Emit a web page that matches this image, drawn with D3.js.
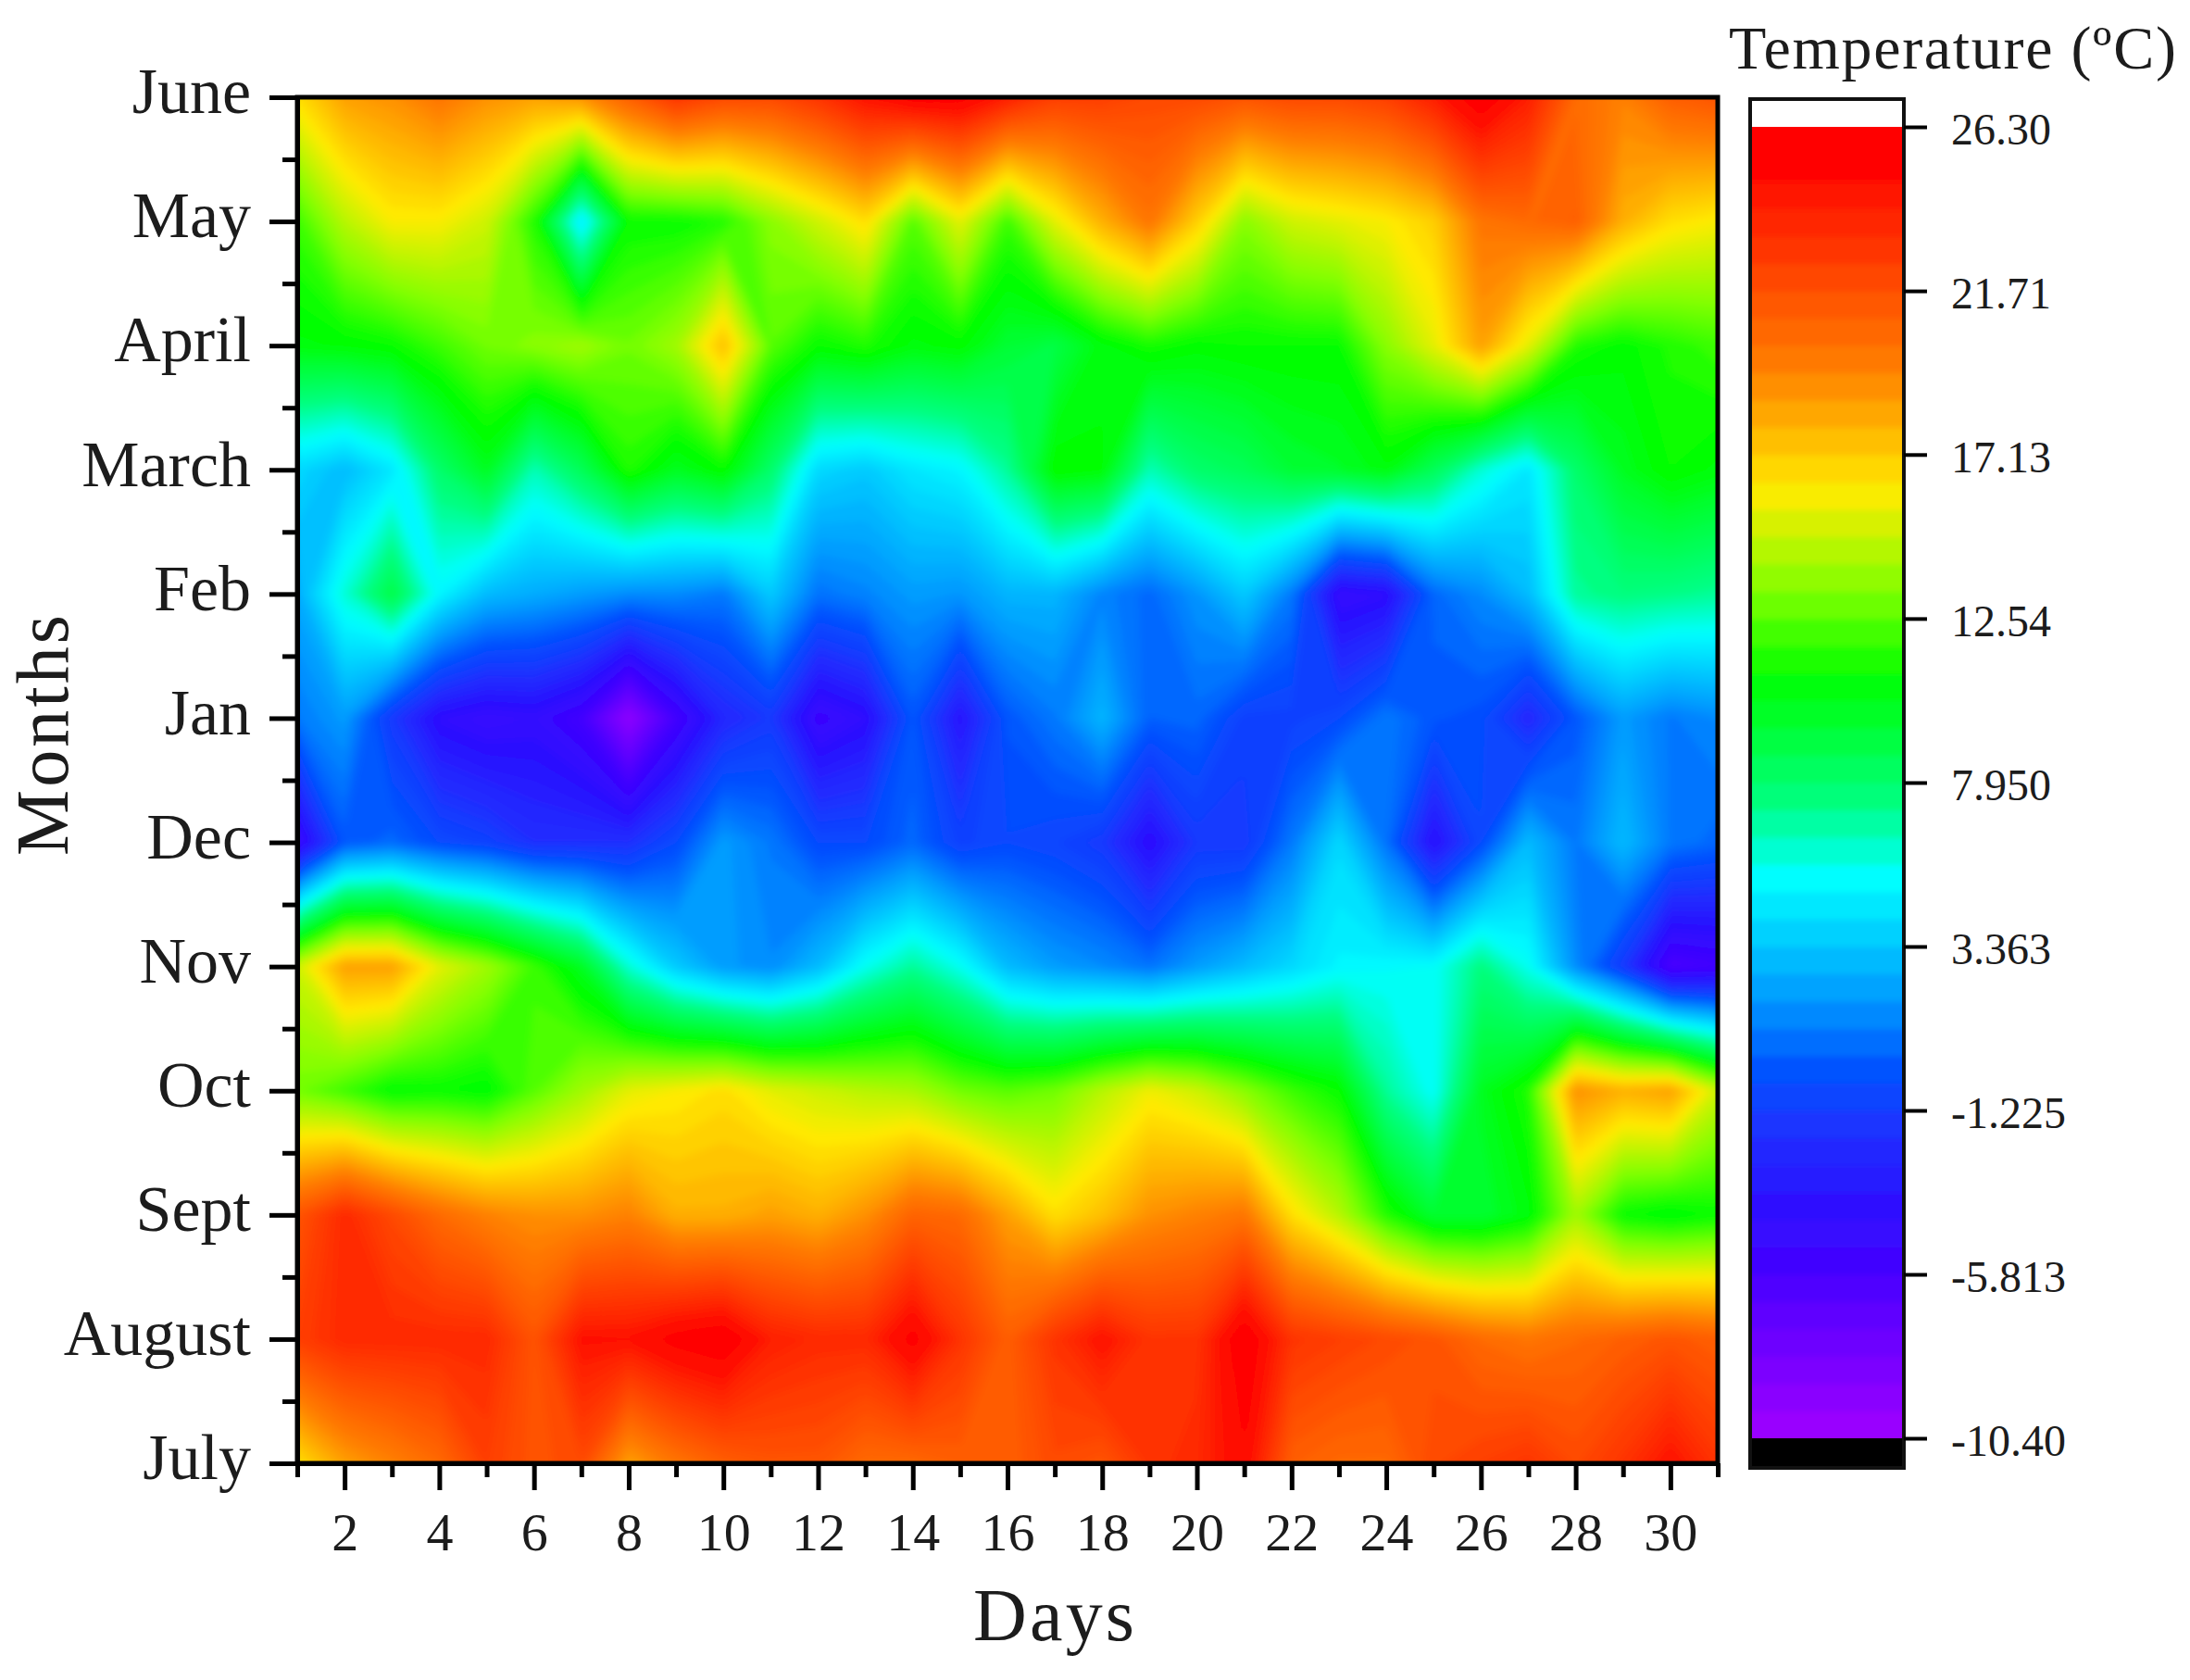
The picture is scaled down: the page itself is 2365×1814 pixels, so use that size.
<!DOCTYPE html>
<html><head><meta charset="utf-8">
<script src="https://cdn.jsdelivr.net/npm/d3@7"></script>
<style>html,body{margin:0;background:#fff}svg{display:block}text{font-family:"Liberation Serif",serif;fill:#1c1c1c}</style>
</head><body><div id="chart"></div>
<script>
const months=["June","May","April","March","Feb","Jan","Dec","Nov","Oct","Sept","August","July"];
const june=[16.5,18.5,19,20,19,18.5,19,21,23,22,22,23,24.5,25.5,25.5,24,22.5,22.5,22,22,21.5,22,22,22.5,24,26,24,20.5,19.5,21,21.5];
const may=[12,14.5,16,16,15,11.5,4.5,11,11,11.5,13.5,15,16.5,12.5,15.5,12,15.5,18,20,17,13.5,15,15.5,16,17,20,20.5,21,18,16.5,16];
const april=[10.5,10.7,11,12,13,13.5,14,13,14,17.5,12.5,11,11.5,10.5,10.8,9.5,9,10.5,11.3,10.8,11,11,11,13.5,15.5,18.5,15.5,11.5,10.8,11.5,12];
const march=[4,3,4.5,8,10,6.5,8.5,11.5,10,11,8,4,3.5,4.5,5,7,11,10.7,6.5,8,8.5,9.5,9.8,10.5,8.5,6,4.5,8,10,11,10.5];
const feb=[2.5,6,9,5,3,2.5,2,1.5,1.5,1,3.5,0.8,1.3,2,1.8,2.8,2.8,1.3,0.5,1.8,3.5,1,-4.5,-4,0.5,1.5,3,7,7.5,7.3,7];
const jan=[1,2,-1.5,-4,-4.6,-4.3,-5.5,-9.5,-5.5,-2.5,-1.5,-5,-4,0,-3.5,0,1,2.8,0.3,0.5,-1,-1,-0.5,1,0,-0.3,-2.5,0,2,1,1.5];
const dec=[-5,0,0.5,-0.5,-1,-2,-2,-2,-0.5,2,1,-0.5,-0.5,0.5,-1,-0.5,-0.8,-1.5,-4,-1.5,-1.5,1,4,0.8,-3.8,-0.5,3,1,3,1,0.5];
const nov=[15,18.5,18.5,15.5,14,12,10,6,3.5,2,1.5,3,5.5,7,5.5,3,2,1.5,0.8,2,3,4,5,5.2,5.3,7.5,5.5,1.5,-1.5,-6,-5.5];
const oct=[13,12,10.8,11,10.7,12.5,14,15.5,16,16.5,15.5,15,14.5,14.2,13,12.5,13,14.5,15.8,15,13.5,12,11,7,5.3,10,11.5,19,18,18.5,15];
const sept=[21.5,23.5,22,20.5,19.5,19,19,19.5,18,18,18.5,18,19,20.8,20.5,18.5,16.5,17.5,19,19.5,20,16.5,14.5,11.5,9.5,9.5,10.5,14,11,10.5,11];
const august=[22.5,23.5,23.5,23.5,23.5,21.5,24.5,24.5,25.5,26,24,23.5,23.5,25.5,23,21,23,24.5,23,23,26,23,22.5,22,21.5,20.5,20,20.5,21,21.5,21];
const july=[16.5,18.5,19.5,20.5,22.5,21.5,22,18.5,20,21,21.5,21.5,20.5,20.5,21,21,22,21.5,23,23.5,25,21,20.5,20.5,22,22.5,23,22,23,24.5,23];
const rows=[june,may,april,march,feb,jan,dec,nov,oct,sept,august,july];
const dayMajor=[2,4,6,8,10,12,14,16,18,20,22,24,26,28,30];
const dayMinor=[1,3,5,7,9,11,13,15,17,19,21,23,25,27,29,31];
const barTicks=[26.30,21.71,17.13,12.54,7.950,3.363,-1.225,-5.813,-10.40];
const barLabels=["26.30","21.71","17.13","12.54","7.950","3.363","-1.225","-5.813","-10.40"];
const colorStops=[-10.4,-5.4,-3.45,-1.85,-0.14,2.1,5.3,7.4,10.9,13.3,16.1,19.5,25.3,26.3];
const colorValues=["#a000ff","#4000ff","#2814ff","#1e32ff","#0050ff","#00a0ff","#00ffff","#00ff80","#00ff00","#80ff00","#ffeb00","#ff8000","#ff0000","#ff0000"];
const levelCount=48, fieldLevelCount=96, vMin=-10.4, vMax=26.3;

const W=2365,H=1814, L=321,R=1855,T=105,B=1580;
const svg=d3.select("#chart").append("svg").attr("width",W).attr("height",H);
const x=d3.scaleLinear().domain([1,31]).range([L,R]);
const y=d3.scaleLinear().domain([0,11]).range([T,B]);
const color=d3.scaleLinear().domain(colorStops).range(colorValues).clamp(true);
const step=(vMax-vMin)/levelCount;
const levels=d3.range(levelCount).map(i=>vMin+i*step);
const fieldStep=(vMax-vMin)/fieldLevelCount;
const fieldLevels=d3.range(fieldLevelCount).map(i=>vMin+i*fieldStep);

const defs=svg.append("defs");
defs.append("clipPath").attr("id","plot").append("rect").attr("x",L).attr("y",T).attr("width",R-L).attr("height",B-T);
const blurF=defs.append("filter").attr("id","soft").attr("filterUnits","userSpaceOnUse").attr("x",L-120).attr("y",T-120).attr("width",R-L+240).attr("height",B-T+240);
blurF.append("feGaussianBlur").attr("stdDeviation",4.5);
const blurB=defs.append("filter").attr("id","softbar").attr("filterUnits","userSpaceOnUse").attr("x",1860).attr("y",100).attr("width",230).attr("height",1500);
blurB.append("feGaussianBlur").attr("stdDeviation","0 3");
defs.append("clipPath").attr("id","barclip").append("rect").attr("x",1890).attr("y",137).attr("width",167).attr("height",1416);

const contours=d3.contours().size([31,12]).smooth(true).thresholds(fieldLevels)(rows.flat());
const proj=d3.geoTransform({point(px,py){this.stream.point(x(px+0.5),y(py-0.5));}});
const path=d3.geoPath(proj);
const gp=svg.append("g").attr("clip-path","url(#plot)").append("g").attr("filter","url(#soft)");
gp.append("rect").attr("x",L-60).attr("y",T-90).attr("width",R-L+120).attr("height",B-T+180).attr("fill",color(vMin));
gp.selectAll("path").data(contours).join("path").attr("d",path)
  .attr("fill",d=>color(d.value+fieldStep/2)).attr("stroke",d=>color(d.value+fieldStep/2)).attr("stroke-width",0.5);

function style(g,w){g.selectAll("path.domain").attr("stroke","#000").attr("stroke-width",w);g.selectAll("line").attr("stroke","#000").attr("stroke-width",w);g.selectAll("text").attr("fill","#1c1c1c");}
svg.append("rect").attr("x",L).attr("y",T).attr("width",R-L).attr("height",B-T).attr("fill","none").attr("stroke","#000").attr("stroke-width",5);
const yMajor=svg.append("g").attr("transform",`translate(${L},0)`).call(d3.axisLeft(y).tickValues(d3.range(12)).tickFormat(i=>months[i]).tickSize(30).tickPadding(20).tickSizeOuter(0));
yMajor.selectAll("text").attr("font-size",70).attr("dy","0.24em");
style(yMajor,5);
const yMinor=svg.append("g").attr("transform",`translate(${L},0)`).call(d3.axisLeft(y).tickValues(d3.range(0.5,11,1)).tickFormat("").tickSize(16).tickSizeOuter(0));
style(yMinor,5);
const xMajor=svg.append("g").attr("transform",`translate(0,${B})`).call(d3.axisBottom(x).tickValues(dayMajor).tickSize(29).tickPadding(24).tickSizeOuter(0));
xMajor.selectAll("text").attr("font-size",58).attr("dy","0.71em");
style(xMajor,5);
const xMinor=svg.append("g").attr("transform",`translate(0,${B})`).call(d3.axisBottom(x).tickValues(dayMinor).tickFormat("").tickSize(15).tickSizeOuter(0));
style(xMinor,5);
svg.append("text").attr("x",1138).attr("y",1771).attr("text-anchor","middle").attr("font-size",80).attr("textLength",174).text("Days");
svg.append("text").attr("transform","translate(73,794) rotate(-90)").attr("text-anchor","middle").attr("font-size",80).attr("textLength",260).text("Months");

const BX=1890,BW=166;
const by=d3.scaleLinear().domain([vMin,vMax]).range([1553,137]);
svg.append("rect").attr("x",BX).attr("y",107).attr("width",BW).attr("height",30).attr("fill","#fff");
svg.append("g").attr("clip-path","url(#barclip)").append("g").attr("filter","url(#softbar)").selectAll("rect").data(levels).join("rect")
  .attr("x",BX).attr("width",BW+1).attr("y",d=>by(d+step)-(d+step>=vMax?20:0)).attr("height",d=>by(d)-by(d+step)+0.6+(d+step>=vMax?20:0)+(d===vMin?20:0)).attr("fill",d=>color(d+step/2));
svg.append("rect").attr("x",BX).attr("y",by(vMin)).attr("width",BW).attr("height",1585-by(vMin)).attr("fill","#000");
svg.append("rect").attr("x",BX).attr("y",107).attr("width",BW).attr("height",1585-107).attr("fill","none").attr("stroke","#111").attr("stroke-width",4);
const bAxis=svg.append("g").attr("transform",`translate(${BX+BW},0)`).call(d3.axisRight(by).tickValues(barTicks).tickFormat((d,i)=>barLabels[i]).tickSize(25).tickPadding(26).tickSizeOuter(0));
bAxis.select("path.domain").remove();
bAxis.selectAll("text").attr("font-size",48).attr("dy","0.38em");
style(bAxis,4);
svg.append("text").attr("x",1867).attr("y",74).attr("font-size",66).attr("textLength",483).text("Temperature (ºC)");
</script></body></html>
